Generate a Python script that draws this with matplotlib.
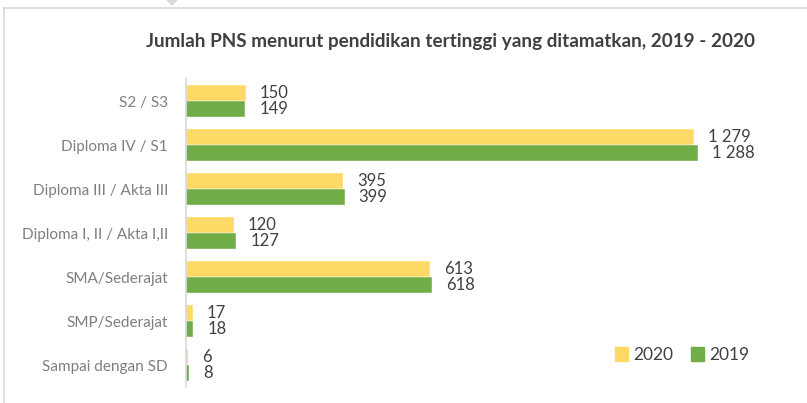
import matplotlib.pyplot as plt
import matplotlib.patches as mpatches
from matplotlib.lines import Line2D
import numpy as np

plt.rcParams['font.family'] = ['Lato', 'DejaVu Sans']

categories = ["S2 / S3", "Diploma IV / S1", "Diploma III / Akta III",
              "Diploma I, II / Akta I,II", "SMA/Sederajat", "SMP/Sederajat",
              "Sampai dengan SD"]
vals_2020 = [150, 1279, 395, 120, 613, 17, 6]
vals_2019 = [149, 1288, 399, 127, 618, 18, 8]
title = "Jumlah PNS menurut pendidikan tertinggi yang ditamatkan, 2019 - 2020"

c2020 = "#FFD966"
c2019 = "#70AD47"

W, H = 807, 403
fig = plt.figure(figsize=(W / 100, H / 100), dpi=100)

# panel border (box with small notch on top)
fig.add_artist(Line2D([4 / W, 4 / W], [0, 1 - 8 / H], color="#d9d9d9", lw=1.2))
fig.add_artist(Line2D([4 / W, 1], [1 - 8 / H, 1 - 8 / H], color="#d9d9d9", lw=1.2))
fig.add_artist(mpatches.Polygon([[167 / W, 1], [177 / W, 1], [172 / W, 1 - 5 / H]],
                                closed=True, color="#d9d9d9", transform=fig.transFigure))

ax_left, ax_right = 186, 790
ax_top, ax_bot = 79, 387
ax = fig.add_axes([ax_left / W, 1 - ax_bot / H, (ax_right - ax_left) / W, (ax_bot - ax_top) / H])

y = np.arange(len(categories))
h = 0.365
ax.barh(y - 0.19, vals_2020, height=h, color=c2020, label="2020", edgecolor="white", linewidth=0.3)
ax.barh(y + 0.19, vals_2019, height=h, color=c2019, label="2019", edgecolor="white", linewidth=0.3)

px_per_unit = (698 - ax_left) / 1288
ax.set_xlim(0, (ax_right - ax_left) / px_per_unit)
ax.set_ylim(len(categories) - 0.5, -0.5)

def fmt(v):
    return f"{v:,}".replace(",", " ")

for yi, a, b in zip(y, vals_2020, vals_2019):
    ax.annotate(fmt(a), (a, yi - 0.19), xytext=(14, 0), textcoords="offset pixels",
                va="center", ha="left", fontsize=12, color="#404040")
    ax.annotate(fmt(b), (b, yi + 0.19), xytext=(14, 0), textcoords="offset pixels",
                va="center", ha="left", fontsize=12, color="#404040")

ax.set_yticks(y)
ax.set_yticklabels(categories, fontsize=11, color="#7f7f7f")
ax.tick_params(axis="y", length=0, pad=13)
ax.set_xticks([])
for s in ["top", "right", "bottom"]:
    ax.spines[s].set_visible(False)
ax.spines["left"].set_color("#d9d9d9")
ax.spines["left"].set_linewidth(1.2)

fig.text(450 / W, 1 - 42 / H, title, ha="center", va="center",
         fontsize=13.6, fontweight="bold", color="#404040")

handles = [mpatches.Patch(color=c2020, label="2020"), mpatches.Patch(color=c2019, label="2019")]
fig.legend(handles=handles, loc="center", bbox_to_anchor=(682 / W, 1 - 355 / H), ncol=2,
           frameon=False, fontsize=12.5, handlelength=0.75, handleheight=0.8,
           handletextpad=0.3, columnspacing=1.0, labelcolor="#404040")

fig.savefig("out.png", dpi=100)
